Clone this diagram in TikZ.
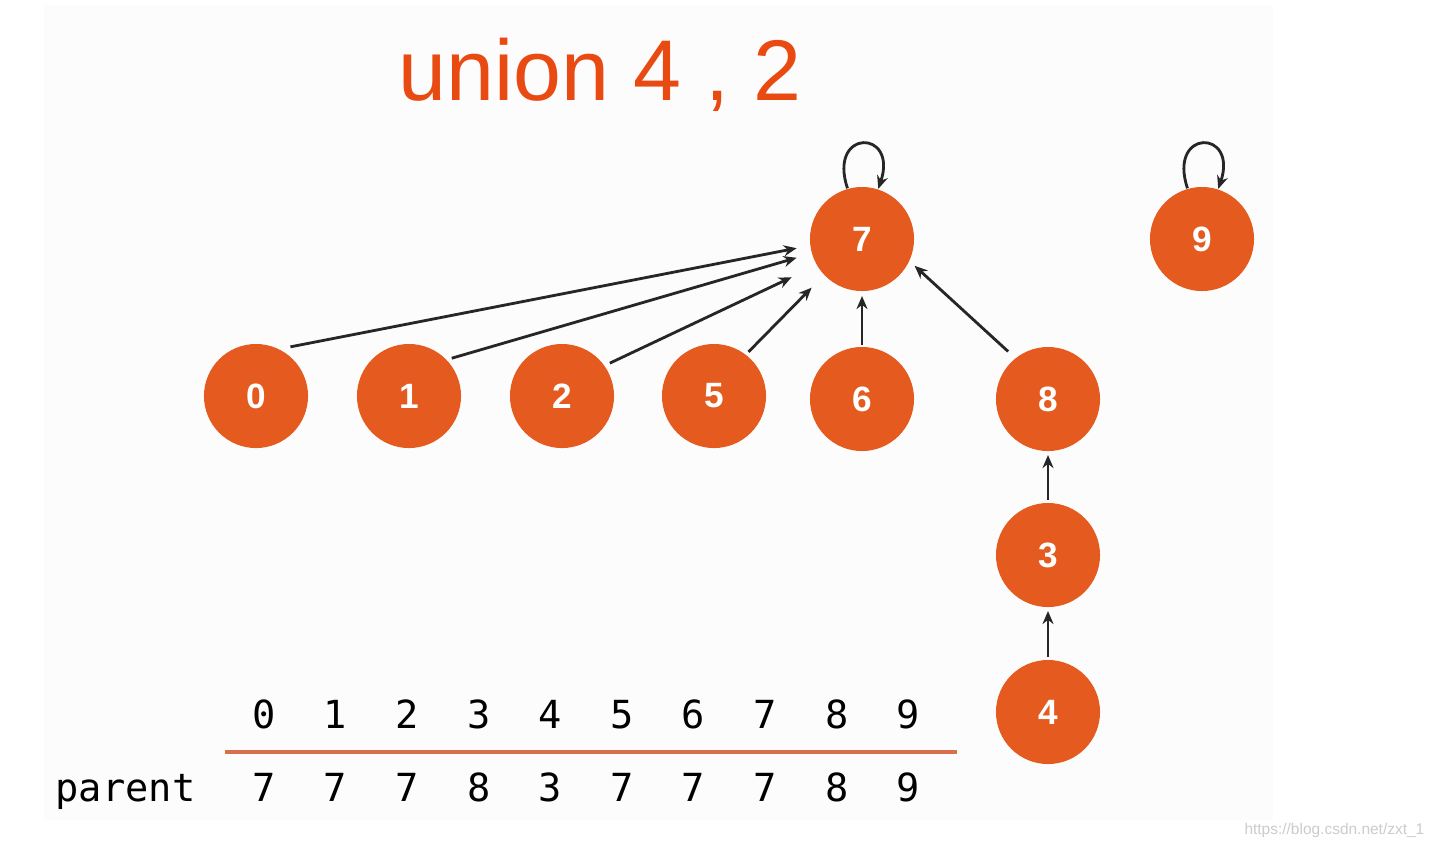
\documentclass[tikz,border=0pt]{standalone}
\usepackage{fontspec}
\setmainfont{Liberation Sans}
\newfontfamily\codefont{DejaVu Sans Mono}
\usepackage{xcolor}
\usepackage{tikz}
\usetikzlibrary{positioning, arrows.meta, calc}

\definecolor{nodeorange}{RGB}{229,91,31}
\definecolor{titleorange}{RGB}{232,74,18}
\definecolor{ruleorange}{RGB}{216,112,78}

\begin{document}
\begin{tikzpicture}[
    x=0.01cm, y=-0.01cm,
    >={Stealth[length=0.13cm, width=0.11cm]},
    % Elements
    elem/.style={
        circle, fill=nodeorange, inner sep=0pt,
        minimum size=1.04cm, text=white,
        font=\fontsize{10}{11}\selectfont\bfseries
    },
    link/.style={->, line width=0.8pt, black!85},
    % Labels
    title_text/.style={text=titleorange, font=\fontsize{24.5}{26}\selectfont},
    code_text/.style={font=\codefont\fontsize{11}{12}\selectfont, anchor=base, inner sep=0pt}
]

    % --- PAGE ---
    \useasboundingbox (0,0) rectangle (1433,847);
    \fill[white] (0,0) rectangle (1433,847);
    \fill[black!1.2] (44,5) rectangle (1273,820);

    % --- TITLE ---
    \node[title_text, anchor=base] (title) at (600,100) {union 4 , 2};

    % --- ELEMENTS ---
    \foreach \n/\x/\y in {7/862/239, 9/1202/239, 0/256/396, 1/409/396,
                          2/562/396, 5/714/396, 6/862/399, 8/1048/399,
                          3/1048/555, 4/1048/712} {
        \node[elem] (n\n) at (\x,\y) {\n};
    }

    % --- PARENT LINKS ---
    \foreach \s/\a/\r/\t/\b/\q in {0/55/0.60/7/188/0.66, 1/41.5/0.57/7/196/0.68,
                                   2/34.5/0.58/7/208.5/0.80, 5/52/0.56/7/224/0.70,
                                   6/90/0.54/7/270/0.57, 8/130/0.62/7/333/0.59,
                                   3/90/0.55/8/270/0.56, 4/90/0.55/3/270/0.56} {
        \draw[link] ($(n\s)+(\a:\r cm)$) -- ($(n\t)+(\b:\q cm)$);
    }

    % Roots point to themselves
    \foreach \n in {7,9} {
        \draw[link] (n\n.106) .. controls +(-0.2cm,0.6cm) and +(0.2cm,0.6cm) .. (n\n.72);
    }

    % --- PARENT ARRAY ---
    \foreach \i/\p in {0/7, 1/7, 2/7, 3/8, 4/3, 5/7, 6/7, 7/7, 8/8, 9/9} {
        \node[code_text] (idx-\i) at (264+71.6*\i, 728) {\i};
        \node[code_text] (par-\i) at (264+71.6*\i, 801) {\p};
    }
    \node[code_text, anchor=base west] (parent_lbl) at (55,801) {parent};
    \draw[ruleorange, line width=0.035cm] (225,752) -- (957,752);

    % --- WATERMARK ---
    \node[anchor=base east, inner sep=0pt, text=black!20,
          font=\fontsize{4.4}{5}\selectfont] (mark) at (1425,834) {https://blog.csdn.net/zxt\_1};

\end{tikzpicture}
\end{document}
